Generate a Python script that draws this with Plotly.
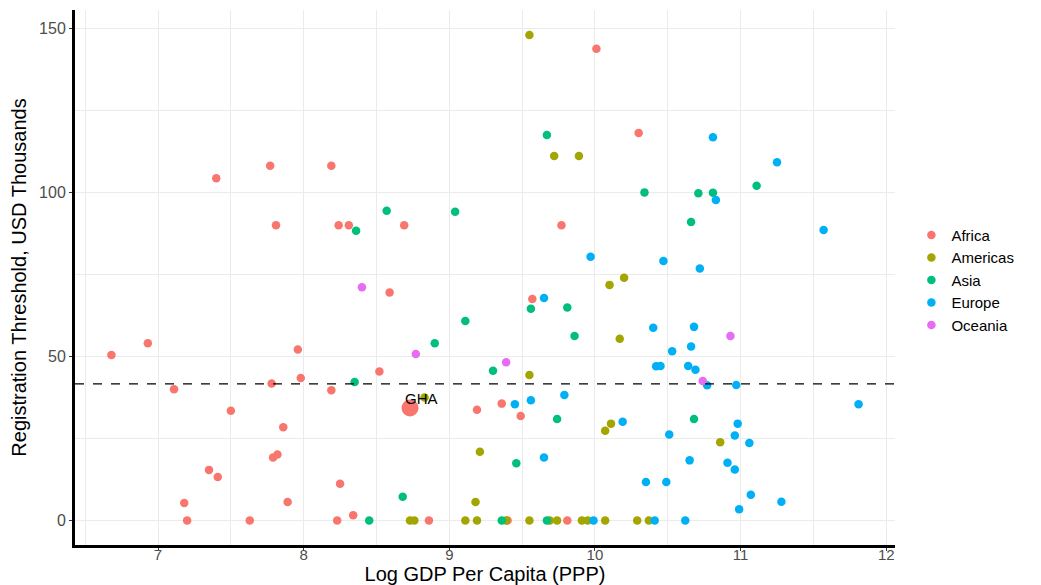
import plotly.graph_objects as go

regions = ["Africa", "Americas", "Asia", "Europe", "Oceania"]
colors = ["#F8766D", "#A3A500", "#00BF7D", "#00B0F6", "#E76BF3"]

africa_x = [7.40, 7.77, 8.19, 7.81, 8.24, 8.31, 8.69, 10.01, 9.77, 10.30, 8.59, 9.57, 6.68, 6.93, 7.96,
            7.98, 7.78, 7.11, 8.19, 8.52, 7.50, 7.86, 7.79, 7.82, 7.35, 7.41, 8.25, 7.18, 7.89, 8.34,
            7.20, 7.63, 8.23, 8.86, 9.40, 9.81, 9.19, 9.36, 9.49]
africa_y = [104.3, 108.1, 108.1, 90, 90, 90, 90, 143.8, 90, 118.1, 69.5, 67.5, 50.4, 54.0, 52.1,
            43.4, 41.7, 40.0, 39.7, 45.4, 33.4, 28.4, 19.2, 20.1, 15.4, 13.2, 11.2, 5.3, 5.6, 1.6,
            0, 0, 0, 0, 0, 0, 33.7, 35.6, 31.8]

americas_x = [9.55, 9.72, 9.89, 10.20, 10.10, 10.17, 9.55, 8.83, 10.07, 10.11, 9.21, 9.18, 10.86,
              8.73, 8.76, 9.11, 9.19, 9.39, 9.55, 9.69, 9.74, 9.91, 9.95, 10.07, 10.29, 10.37]
americas_y = [148.0, 111.1, 111.1, 74.0, 71.8, 55.4, 44.3, 37.5, 27.3, 29.5, 20.9, 5.6, 23.8,
              0, 0, 0, 0, 0, 0, 0, 0, 0, 0, 0, 0, 0]

asia_x = [8.57, 8.36, 9.04, 9.67, 10.34, 10.71, 10.81, 11.11, 10.66, 9.56, 9.81, 9.11, 8.90, 9.86,
          9.30, 8.35, 9.74, 10.68, 9.46, 8.68, 8.45, 9.36, 9.67]
asia_y = [94.4, 88.3, 94.1, 117.5, 100, 99.7, 99.9, 102.0, 91.0, 64.5, 64.9, 60.8, 54.0, 56.2,
          45.6, 42.2, 30.9, 30.9, 17.4, 7.2, 0, 0, 0]

europe_x = [9.97, 10.47, 10.72, 10.81, 11.25, 10.83, 11.57, 9.65, 10.40, 10.68, 10.53, 10.66, 10.42,
            10.45, 10.64, 10.69, 10.77, 10.97, 11.81, 9.45, 9.56, 9.79, 10.19, 10.51, 9.65, 10.65,
            10.35, 10.49, 10.98, 10.96, 11.06, 10.91, 10.96, 11.07, 11.28, 10.99, 9.99, 10.41, 10.62]
europe_y = [80.4, 79.1, 76.8, 116.8, 109.2, 97.7, 88.5, 67.8, 58.7, 59.0, 51.6, 53.0, 47.0,
            47.1, 47.1, 45.9, 41.2, 41.3, 35.4, 35.4, 36.6, 38.2, 30.1, 26.2, 19.2, 18.3,
            11.7, 11.7, 29.5, 25.9, 23.6, 17.6, 15.5, 7.8, 5.7, 3.4, 0, 0, 0]

oceania_x = [8.40, 8.77, 9.39, 10.93, 10.74]
oceania_y = [71.1, 50.7, 48.2, 56.2, 42.5]

highlight_label = "GHA"
highlight_x = [8.73]
highlight_y = [34.3]

threshold_mean = 41.6

x_ticks = [7, 8, 9, 10, 11, 12]
y_ticks = [0, 50, 100, 150]

series_x = [africa_x, americas_x, asia_x, europe_x, oceania_x]
series_y = [africa_y, americas_y, asia_y, europe_y, oceania_y]

fig = go.Figure()

fig.add_trace(go.Scatter(x=highlight_x, y=highlight_y, mode="markers",
                         marker=dict(color=colors[0], size=17), showlegend=False, hoverinfo="skip"))

for name, c, xs, ys in zip(regions, colors, series_x, series_y):
    fig.add_trace(go.Scatter(x=xs, y=ys, mode="markers", name=name,
                             marker=dict(color=c, size=8.5)))

fig.add_annotation(x=highlight_x[0] + 0.08, y=highlight_y[0] + 3.0, text=highlight_label,
                   showarrow=False, font=dict(family="Liberation Sans, Arial", size=15, color="black"))

fig.add_shape(type="line", xref="paper", x0=0, x1=1, yref="y", y0=threshold_mean, y1=threshold_mean,
              line=dict(color="black", width=1.2, dash="dash"))

grid = "#EBEBEB"
fig.update_layout(
    width=1041, height=585,
    margin=dict(l=75, r=146, t=10, b=40),
    paper_bgcolor="white", plot_bgcolor="white",
    font=dict(family="Liberation Sans, Arial", color="#4D4D4D"),
    legend=dict(x=1.02, y=0.495, yanchor="middle", xanchor="left",
                font=dict(size=15, color="black"), tracegroupgap=0, itemwidth=30),
    xaxis=dict(range=[6.43, 12.06], tickvals=x_ticks, showgrid=True, gridcolor=grid, gridwidth=1.3,
               minor=dict(dtick=0.5, tick0=6.5, showgrid=True, gridcolor=grid, gridwidth=0.7),
               showline=True, linecolor="black", linewidth=3, ticks="outside", ticklen=3,
               tickcolor="#333333", tickfont=dict(size=15, color="#4D4D4D"), zeroline=False,
               automargin=False, ticklabelstandoff=-9,
               title=dict(text="Log GDP Per Capita (PPP)", font=dict(size=20, color="black"), standoff=2)),
    yaxis=dict(range=[-7.5, 155.6], tickvals=y_ticks, showgrid=True, gridcolor=grid, gridwidth=1.3,
               minor=dict(dtick=25, tick0=0, showgrid=True, gridcolor=grid, gridwidth=0.7),
               showline=True, linecolor="black", linewidth=3, ticks="outside", ticklen=3,
               tickcolor="#333333", tickfont=dict(size=16, color="#4D4D4D"), zeroline=False,
               automargin=False,
               title=dict(text="Registration Threshold, USD Thousands", font=dict(size=20, color="black"), standoff=8)),
)

fig.write_html("out.html")
